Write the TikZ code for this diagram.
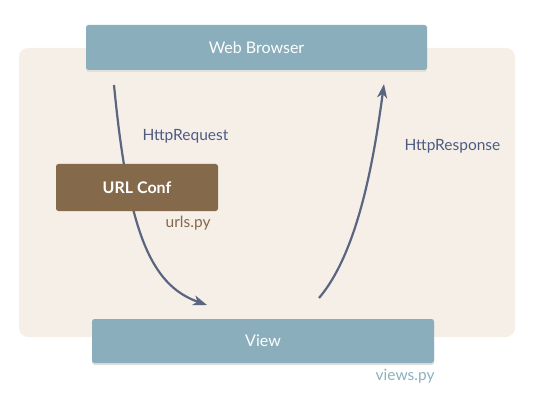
\documentclass[tikz,border=0pt]{standalone}
\usepackage{fontspec}
\setmainfont{Lato}
\usetikzlibrary{arrows.meta}
\definecolor{bgpanel}{HTML}{F5EFE8}
\definecolor{boxblue}{HTML}{8AAEBC}
\definecolor{boxbrown}{HTML}{84694A}
\definecolor{arrowcol}{HTML}{5A6580}
\definecolor{labelcol}{HTML}{4D5C82}
\definecolor{viewscol}{HTML}{8BB0BE}
\definecolor{shadowcol}{HTML}{E2E0DC}
\tikzset{
  x=1pt, y=-1pt,
  bluebox/.style={fill=boxblue, rounded corners=2.5pt, text=white, font=\fontsize{16}{18}\selectfont},
  flow/.style={draw=arrowcol, line width=2.2pt, -{Stealth[length=14pt,width=10pt,inset=4pt]}},
  lbl/.style={text=labelcol, font=\fontsize{15.5}{18}\selectfont},
}
\begin{document}
\begin{tikzpicture}
\useasboundingbox (0,0) rectangle (534,403);
\fill[bgpanel, rounded corners=9pt] (19,48) rectangle (515,337);
% shadows
\fill[shadowcol, rounded corners=2.5pt] (86,27) rectangle (427,72);
\fill[shadowcol, rounded corners=2.5pt] (92,321) rectangle (434,365);
\node[bluebox, minimum width=341pt, minimum height=45pt] (web) at (256.5,47.5) {Web Browser};
\node[bluebox, minimum width=342pt, minimum height=44pt] (view) at (263,341) {View};
\coordinate (reqstart) at (114,85);
\coordinate (reqend) at (207,305);
\coordinate (respstart) at (319,298);
\coordinate (respend) at (384,84);
\draw[flow] (reqstart) .. controls (128,230) and (150,285) .. (reqend);
\draw[flow] (respstart) .. controls (360,250) and (375,150) .. (respend);
\node[fill=boxbrown, rounded corners=2.5pt, minimum width=162pt, minimum height=47pt, text=white, font=\fontsize{16}{18}\selectfont\bfseries] (urlconf) at (137,187.5) {URL Conf};
\node[lbl, anchor=west] (reqlbl) at (139,136) {HttpRequest};
\node[lbl, anchor=west] (resplbl) at (401,146) {HttpResponse};
\node[text=boxbrown, font=\fontsize{15.5}{18}\selectfont, anchor=east] (urlspy) at (214,223) {urls.py};
\node[text=viewscol, font=\fontsize{15.5}{18}\selectfont, anchor=east] (viewspy) at (438,376) {views.py};
\end{tikzpicture}
\end{document}
